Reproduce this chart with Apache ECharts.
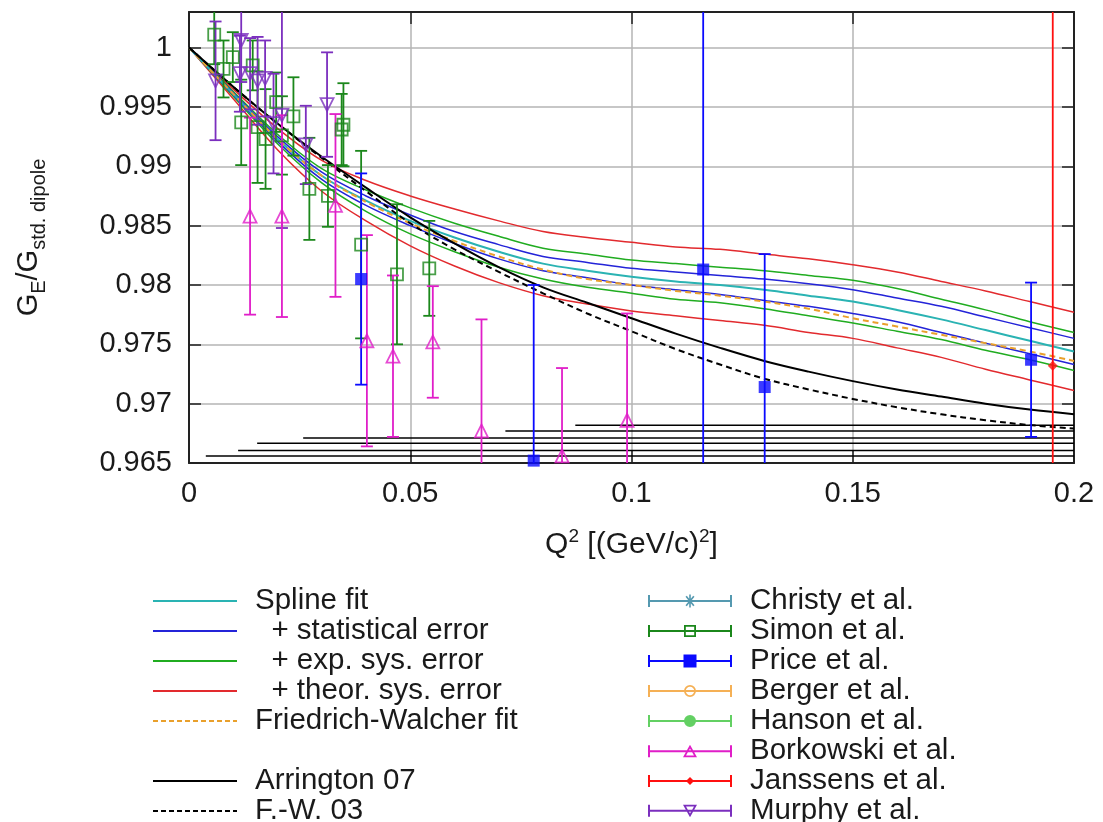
<!DOCTYPE html>
<html>
<head>
<meta charset="utf-8">
<script src="https://cdn.jsdelivr.net/npm/echarts@6/dist/echarts.min.js"></script>
<style>
  html, body { margin: 0; padding: 0; background: #ffffff; }
  #chart { width: 1103px; height: 822px; }
</style>
</head>
<body>
<div id="chart"></div>
<script>
// Q² sampling grid of the fitted curves, in (GeV/c)²
const q2Grid = [0, 0.01, 0.02, 0.03, 0.04, 0.05, 0.06, 0.07, 0.08, 0.09, 0.10,
                0.11, 0.12, 0.13, 0.14, 0.15, 0.16, 0.17, 0.18, 0.19, 0.20];

// G_E / G_std.dipole of the fits on q2Grid
const splineFit  = [1.0000, 0.9961, 0.9923, 0.9892, 0.9871, 0.9854, 0.9840, 0.9828, 0.9818, 0.9812, 0.9807,
                    0.9803, 0.9800, 0.9796, 0.9791, 0.9786, 0.9779, 0.9771, 0.9762, 0.9753, 0.9744];
const statUpper  = [1.0000, 0.9962, 0.9925, 0.9895, 0.9875, 0.9859, 0.9845, 0.9834, 0.9824, 0.9819, 0.9814,
                    0.9811, 0.9808, 0.9805, 0.9801, 0.9796, 0.9789, 0.9782, 0.9773, 0.9764, 0.9755];
const statLower  = [1.0000, 0.9960, 0.9921, 0.9889, 0.9867, 0.9850, 0.9835, 0.9822, 0.9812, 0.9806, 0.9800,
                    0.9796, 0.9792, 0.9787, 0.9782, 0.9776, 0.9769, 0.9760, 0.9751, 0.9742, 0.9733];
const expUpper   = [1.0000, 0.9963, 0.9927, 0.9898, 0.9880, 0.9865, 0.9852, 0.9841, 0.9831, 0.9826, 0.9821,
                    0.9818, 0.9815, 0.9812, 0.9808, 0.9804, 0.9797, 0.9788, 0.9779, 0.9769, 0.9760];
const expLower   = [1.0000, 0.9959, 0.9919, 0.9886, 0.9862, 0.9843, 0.9828, 0.9815, 0.9805, 0.9798, 0.9793,
                    0.9788, 0.9785, 0.9780, 0.9774, 0.9768, 0.9761, 0.9754, 0.9745, 0.9737, 0.9728];
const theorUpper = [1.0000, 0.9965, 0.9932, 0.9905, 0.9888, 0.9875, 0.9864, 0.9854, 0.9845, 0.9840, 0.9836,
                    0.9832, 0.9830, 0.9826, 0.9822, 0.9817, 0.9811, 0.9803, 0.9795, 0.9786, 0.9777];
const theorLower = [1.0000, 0.9957, 0.9914, 0.9879, 0.9854, 0.9833, 0.9816, 0.9802, 0.9791, 0.9784, 0.9778,
                    0.9774, 0.9770, 0.9766, 0.9760, 0.9755, 0.9747, 0.9739, 0.9729, 0.9720, 0.9711];
const fwFit      = [1.0000, 0.9961, 0.9923, 0.9892, 0.9870, 0.9852, 0.9837, 0.9824, 0.9813, 0.9805, 0.9800,
                    0.9795, 0.9791, 0.9786, 0.9780, 0.9772, 0.9765, 0.9758, 0.9751, 0.9744, 0.9736];
const arrington07 = [1.0000, 0.9967, 0.9936, 0.9908, 0.9882, 0.9857, 0.9835, 0.9815, 0.9798, 0.9785, 0.9772,
                     0.9759, 0.9747, 0.9736, 0.9727, 0.9719, 0.9712, 0.9706, 0.9700, 0.9695, 0.9691];
const fw03       = [1.0000, 0.9967, 0.9936, 0.9907, 0.9879, 0.9852, 0.9830, 0.9811, 0.9793, 0.9776, 0.9761,
                    0.9746, 0.9733, 0.9721, 0.9712, 0.9704, 0.9697, 0.9691, 0.9686, 0.9682, 0.9679];

// measurements: [Q², G_E/G_std.dipole, error]
const simon = [
  [0.0057, 1.0011, 0.0025], [0.0078, 0.9982, 0.0024], [0.0099, 0.9992, 0.0021],
  [0.0118, 0.9937, 0.0036], [0.0144, 0.9985, 0.0021], [0.0155, 0.9933, 0.0047],
  [0.0173, 0.9923, 0.0042], [0.0197, 0.9954, 0.0025], [0.0210, 0.9926, 0.0033],
  [0.0236, 0.9942, 0.0033], [0.0272, 0.9881, 0.0043], [0.0314, 0.9875, 0.0026],
  [0.0345, 0.9931, 0.0030], [0.0349, 0.9935, 0.0035], [0.0389, 0.9834, 0.0079],
  [0.0470, 0.9809, 0.0059], [0.0543, 0.9814, 0.0040]
];
const murphy = [
  [0.0060, 0.9972, 0.0050], [0.0115, 0.9978, 0.0032], [0.0118, 1.0006, 0.0035],
  [0.0138, 0.9978, 0.0030], [0.0155, 0.9972, 0.0037], [0.0172, 0.9974, 0.0032],
  [0.0191, 0.9936, 0.0042], [0.0210, 0.9943, 0.0095], [0.0264, 0.9918, 0.0033],
  [0.0312, 0.9952, 0.0044]
];
const borkowski = [
  [0.0138, 0.9858, 0.0083], [0.0210, 0.9858, 0.0085], [0.0331, 0.9867, 0.0077],
  [0.0402, 0.9753, 0.0089], [0.0461, 0.9740, 0.0068], [0.0551, 0.9752, 0.0047],
  [0.0661, 0.9677, 0.0094], [0.0843, 0.9656, 0.0074], [0.0990, 0.9686, 0.0090]
];
const price = [
  [0.0389, 0.9805, 0.0089], [0.0779, 0.9652, 0.0148], [0.1162, 0.9813, 0.0250],
  [0.1301, 0.9714, 0.0112], [0.1903, 0.9737, 0.0065]
];
const janssens = [[0.1952, 0.9732, 0.0500]];
const christy = [];
const berger = [];
const hanson = [];

// Q² coverage markers along the bottom of the frame: start of each range and its level
const rangeStarts = [0.0038, 0.0111, 0.0154, 0.0258, 0.0715, 0.0873];
const rangeLevels = [0.96559, 0.96605, 0.96666, 0.96711, 0.96770, 0.96818];

// axis ranges
const X_MIN = 0, X_MAX = 0.2, X_STEP = 0.05;
const Y_MIN = 0.965, Y_MAX = 1.003, Y_STEP = 0.005;

const FONT = "'Liberation Sans', Arial, Helvetica, sans-serif";
const TEXT = '#1a1a1a';

const C = {
  spline: '#2ab3b3', stat: '#2424d8', exp: '#20ac20', theor: '#e22a2e', fw: '#e9a02c',
  christy: '#2a7f9c', simon: '#1b871b', price: '#0a0aff', berger: '#f39c2a',
  hanson: '#3cc43c', borkowski: '#e01ec8', janssens: '#ff1010', murphy: '#7b2fbe'
};

const pairs = arr => q2Grid.map((q, i) => [q, arr[i]]);

function curve(name, values, color, width, dash) {
  return {
    type: 'line', name, data: pairs(values), smooth: 0.35, showSymbol: false, symbol: 'none',
    z: 2, silent: true, color,
    lineStyle: { color, width, type: dash || 'solid' }
  };
}

const CAP = 6;
function errorBars(name, rows, color) {
  return {
    type: 'custom', name, data: rows, z: 4, clip: true, silent: true, color,
    encode: { x: 0, y: 1 },
    renderItem(params, api) {
      const q = api.value(0), v = api.value(1), e = api.value(2);
      const top = v + e, bot = v - e;
      const pTop = api.coord([q, Math.min(top, Y_MAX)]);
      const pBot = api.coord([q, Math.max(bot, Y_MIN)]);
      const style = { stroke: color, lineWidth: 1.8, fill: null };
      const kids = [{ type: 'line', shape: { x1: pTop[0], y1: pTop[1], x2: pBot[0], y2: pBot[1] }, style }];
      if (top <= Y_MAX) kids.push({ type: 'line', shape: { x1: pTop[0] - CAP, y1: pTop[1], x2: pTop[0] + CAP, y2: pTop[1] }, style });
      if (bot >= Y_MIN) kids.push({ type: 'line', shape: { x1: pBot[0] - CAP, y1: pBot[1], x2: pBot[0] + CAP, y2: pBot[1] }, style });
      return { type: 'group', children: kids };
    }
  };
}

function markers(name, rows, color, symbol, size, hollow, rotate) {
  return {
    type: 'scatter', name, data: rows.map(r => [r[0], r[1]]), z: 5, silent: true,
    symbol, symbolSize: size, symbolRotate: rotate || 0, color,
    itemStyle: hollow
      ? { color: 'rgba(255,255,255,0)', borderColor: color, borderWidth: 1.8 }
      : { color, borderWidth: 0 }
  };
}

const rangeSeries = rangeStarts.map((s, i) => ({
  type: 'line', data: [[s, rangeLevels[i]], [X_MAX, rangeLevels[i]]],
  showSymbol: false, symbol: 'none', z: 3, silent: true,
  lineStyle: { color: '#000', width: 1.6 }
}));

// legend icons (84 x 14 boxes)
const BAR = 'M0,6.1H84V7.9H0Z';
const lineIcon = 'path://' + BAR;
function dashIcon(dash, gap) {
  let d = '';
  for (let x = 0; x < 84; x += dash + gap) {
    const w = Math.min(dash, 84 - x);
    d += `M${x},6.1h${w}v1.8h${-w}z`;
  }
  return 'path://' + d;
}
const ERR = BAR + 'M0,1H2V13H0Z M82,1H84V13H82Z';
const icons = {
  christy: 'path://' + ERR + 'M41.2,0.5H42.8V13.5H41.2Z M37.5,2.8L38.8,1.7L46.5,11.2L45.2,12.3Z M38.8,12.3L37.5,11.2L45.2,1.7L46.5,2.8Z',
  simon: 'path://' + ERR + 'M36,1H48V13H36Z M37.8,2.8V11.2H46.2V2.8Z',
  price: 'path://' + ERR + 'M35.5,0.5H48.5V13.5H35.5Z',
  berger: 'path://' + ERR + 'M36,7A6,6 0 1 1 48,7A6,6 0 1 1 36,7Z M37.8,7A4.2,4.2 0 1 0 46.2,7A4.2,4.2 0 1 0 37.8,7Z',
  hanson: 'path://' + ERR + 'M36,7A6,6 0 1 1 48,7A6,6 0 1 1 36,7Z',
  borkowski: 'path://' + ERR + 'M35,13L42,0.5L49,13Z M38,11.3L46,11.3L42,4.2Z',
  janssens: 'path://' + ERR + 'M42,3L46,7L42,11L38,7Z',
  murphy: 'path://' + ERR + 'M35,1H49L42,13.5Z M38,2.7L42,9.8L46,2.7Z'
};

const legendText = { fontFamily: FONT, fontSize: 29.5, color: TEXT, lineHeight: 29.9, padding: [0, 0, 0, 13] };
function legendBlock(left, top, items) {
  return {
    orient: 'vertical', left, top, height: 400, padding: 0, itemGap: 0, itemWidth: 84, itemHeight: 14,
    selectedMode: false, textStyle: legendText, itemStyle: { borderWidth: 0 },
    data: items.map(([name, icon, color]) => ({ name, icon, itemStyle: { color, borderWidth: 0 } }))
  };
}

const axisLine = { show: true, onZero: false, lineStyle: { color: '#222', width: 2 } };
const axisTick = { show: true, inside: true, length: 12, lineStyle: { color: '#222', width: 1.5 } };
const gridLine = { show: true, lineStyle: { color: '#b4b4b4', width: 1.5 } };
const tickFont = { fontFamily: FONT, fontSize: 29, color: TEXT };

const option = {
  animation: false,
  backgroundColor: '#ffffff',
  grid: { left: 189, right: 29, top: 12, bottom: 359, containLabel: false, outerBoundsMode: 'none' },
  xAxis: [
    {
      type: 'value', min: X_MIN, max: X_MAX, interval: X_STEP, position: 'bottom',
      axisLine, axisTick, splitLine: gridLine,
      axisLabel: Object.assign({ margin: 16 }, tickFont),
      name: 'Q{sup|2} [(GeV/c){sup|2}]', nameLocation: 'middle', nameGap: 64,
      nameTextStyle: {
        fontFamily: FONT, fontSize: 30, color: TEXT, lineHeight: 36,
        rich: { sup: { fontFamily: FONT, fontSize: 19, color: TEXT, lineHeight: 19, verticalAlign: 'top' } }
      }
    },
    {
      type: 'value', min: X_MIN, max: X_MAX, interval: X_STEP, position: 'top',
      axisLine, axisTick, splitLine: { show: false }, axisLabel: { show: false }
    }
  ],
  yAxis: [
    {
      type: 'value', min: Y_MIN, max: Y_MAX, interval: Y_STEP, position: 'left',
      axisLine, axisTick, splitLine: gridLine,
      axisLabel: Object.assign({ margin: 17, showMaxLabel: false }, tickFont),
      name: 'G{sub|E}/G{sub|std. dipole}', nameLocation: 'middle', nameRotate: 90, nameGap: 140,
      nameTextStyle: {
        fontFamily: FONT, fontSize: 29, color: TEXT, lineHeight: 40,
        rich: { sub: { fontFamily: FONT, fontSize: 20, color: TEXT, lineHeight: 20, verticalAlign: 'bottom' } }
      }
    },
    {
      type: 'value', min: Y_MIN, max: Y_MAX, interval: Y_STEP, position: 'right',
      axisLine, axisTick, splitLine: { show: false }, axisLabel: { show: false }
    }
  ],
  legend: [
    legendBlock(153, 586, [
      ['Spline fit', lineIcon, C.spline],
      ['  + statistical error', lineIcon, C.stat],
      ['  + exp. sys. error', lineIcon, C.exp],
      ['  + theor. sys. error', lineIcon, C.theor],
      ['Friedrich-Walcher fit', dashIcon(5, 3), C.fw]
    ]),
    legendBlock(153, 766, [
      ['Arrington 07', lineIcon, '#000000'],
      ['F.-W. 03', dashIcon(5, 3), '#000000']
    ]),
    legendBlock(648, 586, [
      ['Christy et al.', icons.christy, C.christy],
      ['Simon et al.', icons.simon, C.simon],
      ['Price et al.', icons.price, C.price],
      ['Berger et al.', icons.berger, C.berger],
      ['Hanson et al.', icons.hanson, C.hanson],
      ['Borkowski et al.', icons.borkowski, C.borkowski],
      ['Janssens et al.', icons.janssens, C.janssens],
      ['Murphy et al.', icons.murphy, C.murphy]
    ])
  ],
  series: [
    curve('  + theor. sys. error', theorUpper, C.theor, 1.5),
    curve('  + theor. sys. error', theorLower, C.theor, 1.5),
    curve('  + exp. sys. error', expUpper, C.exp, 1.5),
    curve('  + exp. sys. error', expLower, C.exp, 1.5),
    curve('  + statistical error', statUpper, C.stat, 1.5),
    curve('  + statistical error', statLower, C.stat, 1.5),
    curve('Spline fit', splineFit, C.spline, 2),
    curve('Friedrich-Walcher fit', fwFit, C.fw, 2, [6, 4]),
    curve('Arrington 07', arrington07, '#000000', 2),
    curve('F.-W. 03', fw03, '#000000', 2, [6, 4]),
    ...rangeSeries,
    markers('Christy et al.', christy, C.christy, 'circle', 10, false),
    markers('Berger et al.', berger, C.berger, 'circle', 10, true),
    markers('Hanson et al.', hanson, C.hanson, 'circle', 10, false),
    errorBars('Simon et al.', simon, C.simon),
    markers('Simon et al.', simon, C.simon, 'rect', 12, true),
    errorBars('Murphy et al.', murphy, C.murphy),
    markers('Murphy et al.', murphy, C.murphy, 'triangle', 13, true, 180),
    errorBars('Borkowski et al.', borkowski, C.borkowski),
    markers('Borkowski et al.', borkowski, C.borkowski, 'triangle', 13, true),
    errorBars('Price et al.', price, C.price),
    markers('Price et al.', price, C.price, 'rect', 12, false),
    errorBars('Janssens et al.', janssens, C.janssens),
    markers('Janssens et al.', janssens, C.janssens, 'diamond', 10, false)
  ]
};

const chart = echarts.init(document.getElementById('chart'), null, { renderer: 'canvas' });
chart.setOption(option);
</script>
</body>
</html>
